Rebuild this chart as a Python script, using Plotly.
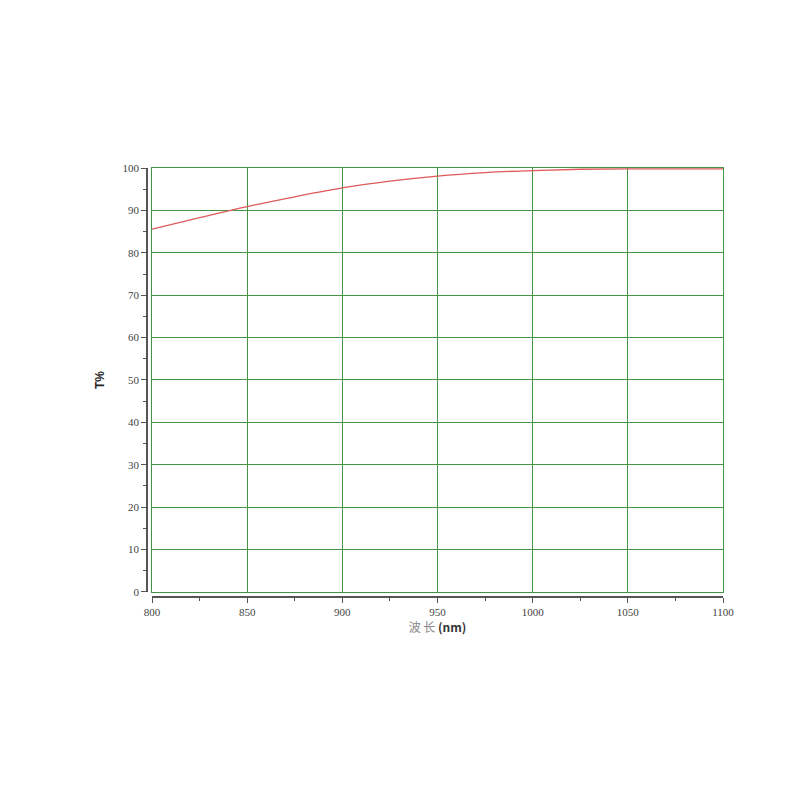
import plotly.graph_objects as go

# wavelength (nm) vs transmittance (%)
wavelength = [800, 825, 850, 875, 900, 925, 950, 975, 1000, 1025, 1050, 1075, 1100]
transmittance = [85.6, 88.3, 90.9, 93.2, 95.3, 96.9, 98.1, 98.9, 99.4, 99.7, 99.8, 99.8, 99.8]

x_ticks = [800, 850, 900, 950, 1000, 1050, 1100]
y_ticks = [0, 10, 20, 30, 40, 50, 60, 70, 80, 90, 100]

grid_green = "#449444"
axis_grey = "#555555"
tick_font = dict(family="Liberation Serif", size=11, color="#444444")

fig = go.Figure()
fig.add_trace(
    go.Scatter(
        x=wavelength,
        y=transmittance,
        mode="lines",
        line=dict(color="#e05a5a", width=1.3, shape="spline"),
        showlegend=False,
    )
)
# invisible trace so the offset axes get drawn
fig.add_trace(
    go.Scatter(x=[800], y=[0], xaxis="x2", yaxis="y2", mode="markers",
               marker=dict(opacity=0), showlegend=False, hoverinfo="skip")
)

fig.update_layout(
    width=800,
    height=800,
    paper_bgcolor="white",
    plot_bgcolor="white",
    margin=dict(l=139, r=85, t=160, b=211),
    xaxis=dict(
        domain=[0.0087, 1],
        range=[800, 1100],
        showgrid=True,
        gridcolor=grid_green,
        gridwidth=1.2,
        tickvals=x_ticks,
        showticklabels=False,
        zeroline=False,
        showline=True,
        linecolor=grid_green,
        linewidth=1,
        mirror=True,
    ),
    yaxis=dict(
        domain=[0.0117, 1],
        range=[0, 100],
        showgrid=True,
        gridcolor=grid_green,
        gridwidth=1.2,
        tickvals=y_ticks,
        showticklabels=False,
        zeroline=False,
        showline=True,
        linecolor=grid_green,
        linewidth=1,
        mirror=True,
    ),
    xaxis2=dict(
        domain=[0.0087, 1],
        range=[800, 1100],
        anchor="free",
        position=0,
        overlaying="x",
        showgrid=False,
        zeroline=False,
        showline=True,
        linecolor=axis_grey,
        linewidth=1.5,
        ticks="outside",
        ticklen=5,
        tickcolor=axis_grey,
        tickvals=x_ticks,
        tickfont=tick_font,
        minor=dict(dtick=25, ticks="outside", ticklen=3, tickcolor=axis_grey),
        title=dict(
            text="<span style='color:#888888'>波 长</span> <b>(nm)</b>",
            font=dict(family="Noto Sans CJK SC", size=12, color="#333333"),
            standoff=2,
        ),
    ),
    yaxis2=dict(
        domain=[0.0117, 1],
        range=[0, 100],
        anchor="free",
        position=0,
        overlaying="y",
        showgrid=False,
        zeroline=False,
        showline=True,
        linecolor=axis_grey,
        linewidth=1.5,
        ticks="outside",
        ticklen=5,
        tickcolor=axis_grey,
        tickvals=y_ticks,
        tickfont=tick_font,
        minor=dict(dtick=5, ticks="outside", ticklen=3, tickcolor=axis_grey),
        title=dict(
            text="<b>T%</b>",
            font=dict(family="Liberation Sans", size=12, color="#222222"),
            standoff=14,
        ),
    ),
)

fig.write_html("out.html")
